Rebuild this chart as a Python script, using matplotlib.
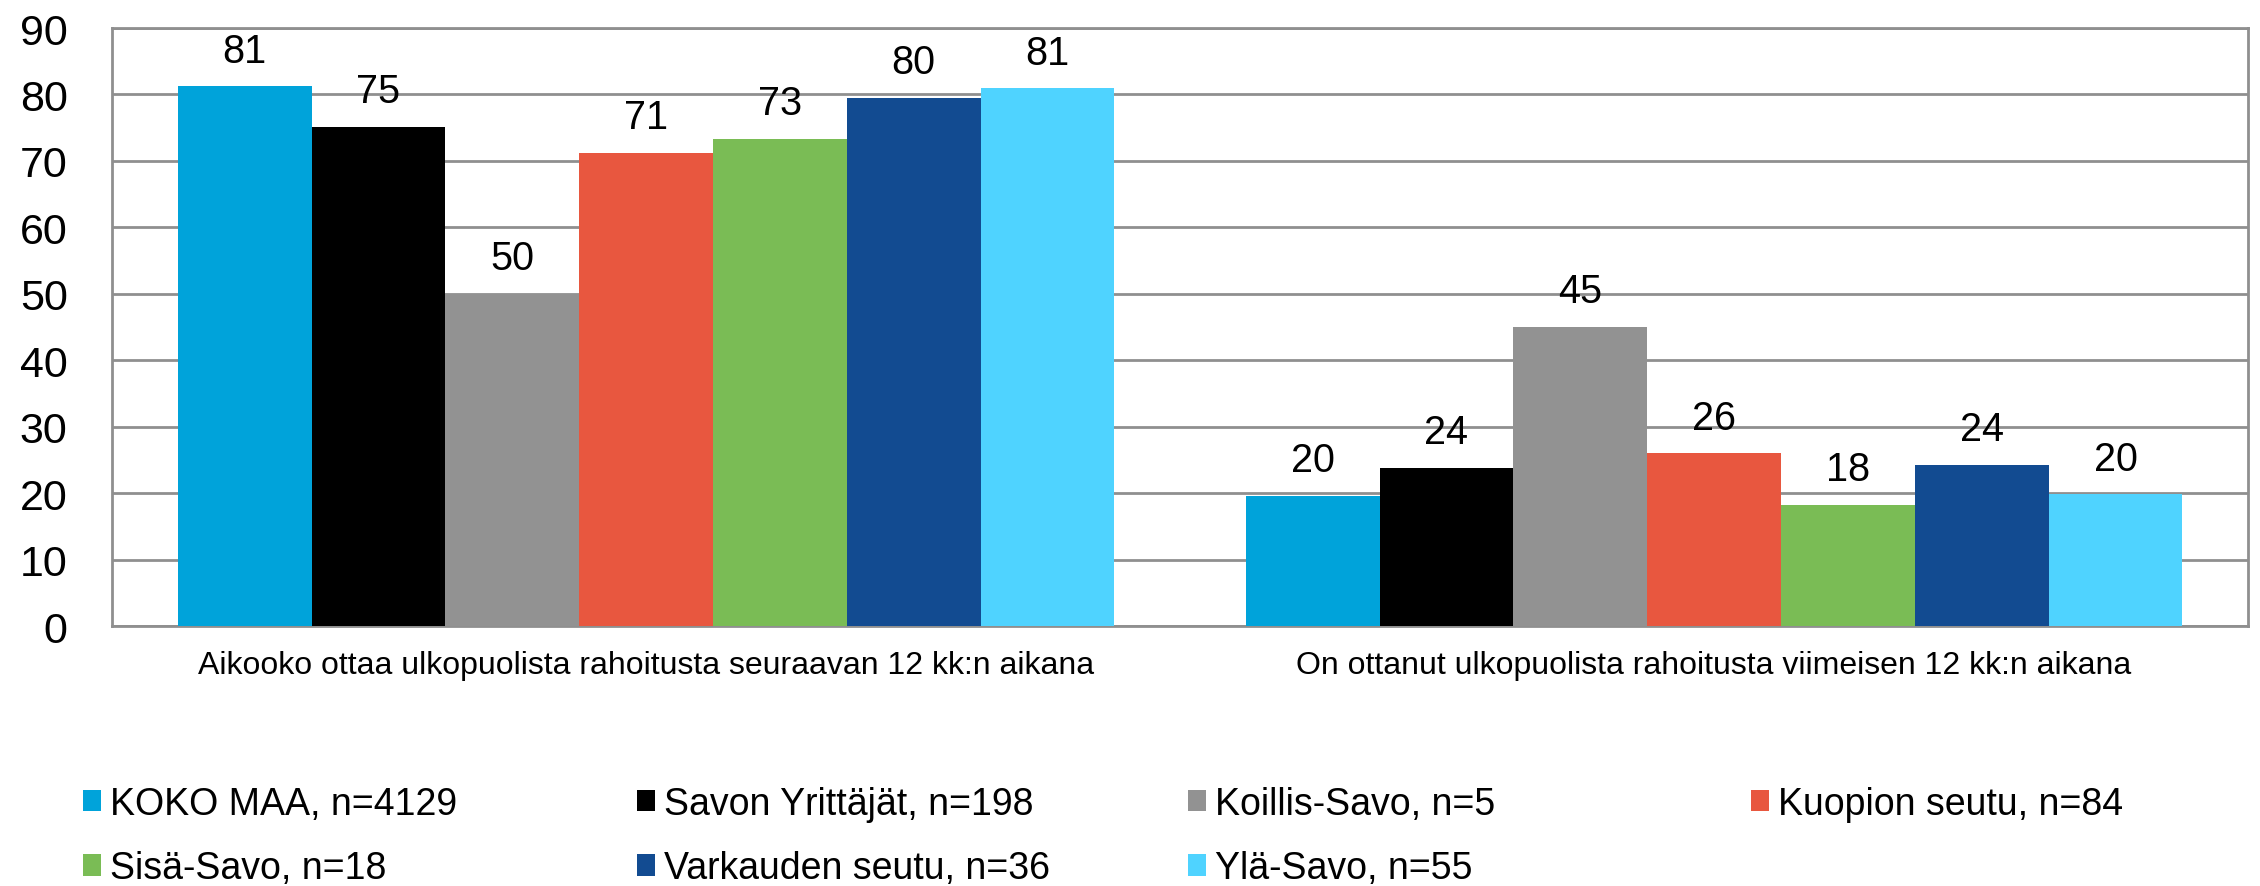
import matplotlib
matplotlib.use('Agg')
import matplotlib.pyplot as plt
import numpy as np

plt.rcParams['font.family'] = ['Liberation Sans', 'DejaVu Sans']

categories = ['Aikooko ottaa ulkopuolista rahoitusta seuraavan 12 kk:n aikana',
              'On ottanut ulkopuolista rahoitusta viimeisen 12 kk:n aikana']
series = ['KOKO MAA, n=4129', 'Savon Yrittäjät, n=198', 'Koillis-Savo, n=5',
          'Kuopion seutu, n=84', 'Sisä-Savo, n=18', 'Varkauden seutu, n=36',
          'Ylä-Savo, n=55']
koko_maa = [81.2, 19.6]
savon_yrittajat = [75.1, 23.8]
koillis_savo = [50.0, 45.0]
kuopion_seutu = [71.2, 26.0]
sisa_savo = [73.3, 18.2]
varkauden_seutu = [79.5, 24.3]
yla_savo = [80.9, 19.8]
values = [koko_maa, savon_yrittajat, koillis_savo, kuopion_seutu,
          sisa_savo, varkauden_seutu, yla_savo]
colors = ['#00A3DA', '#000000', '#929292', '#E8573F', '#7ABC55', '#124B91', '#4FD3FF']

fig = plt.figure(figsize=(22.6, 8.87), dpi=100)
ax = fig.add_axes([0.0496, 0.2931, 0.9451, 0.6742])

x = np.arange(len(categories))
n = len(series)
w = 0.877 / n
bars = []
for i in range(n):
    b = ax.bar(x - 0.877 / 2 + w * (i + 0.5), values[i], width=w, color=colors[i],
               label=series[i], zorder=3)
    ax.bar_label(b, labels=[str(int(round(v))) for v in values[i]], padding=12,
                 fontsize=28.5)
    bars.append(b)

ax.set_xlim(-0.5, 1.5)
ax.set_ylim(0, 90)
ax.set_yticks(range(0, 91, 10))
ax.set_xticks(x)
ax.set_xticklabels(categories, fontsize=23)
ax.tick_params(axis='y', length=0, pad=32, labelsize=31)
ax.tick_params(axis='x', length=0, pad=17)
ax.grid(axis='y', color='#8f8f8f', linewidth=2, zorder=0)
for s in ['left', 'right', 'bottom', 'top']:
    ax.spines[s].set_color('#8f8f8f')
    ax.spines[s].set_linewidth(2)

# legend: four fixed-width columns, filled row by row
col_x = [0.0301, 0.2752, 0.5190, 0.7681]
for c in range(4):
    idx = [c, c + 4] if c + 4 < n else [c]
    fig.legend([bars[i] for i in idx], [series[i] for i in idx],
               loc='upper left', bbox_to_anchor=(col_x[c], 0.1297),
               bbox_transform=fig.transFigure, frameon=False, fontsize=27,
               handlelength=0.48, handleheight=0.5, handletextpad=0.25,
               labelspacing=0.76, borderaxespad=0)

fig.savefig('out.png', dpi=100)
